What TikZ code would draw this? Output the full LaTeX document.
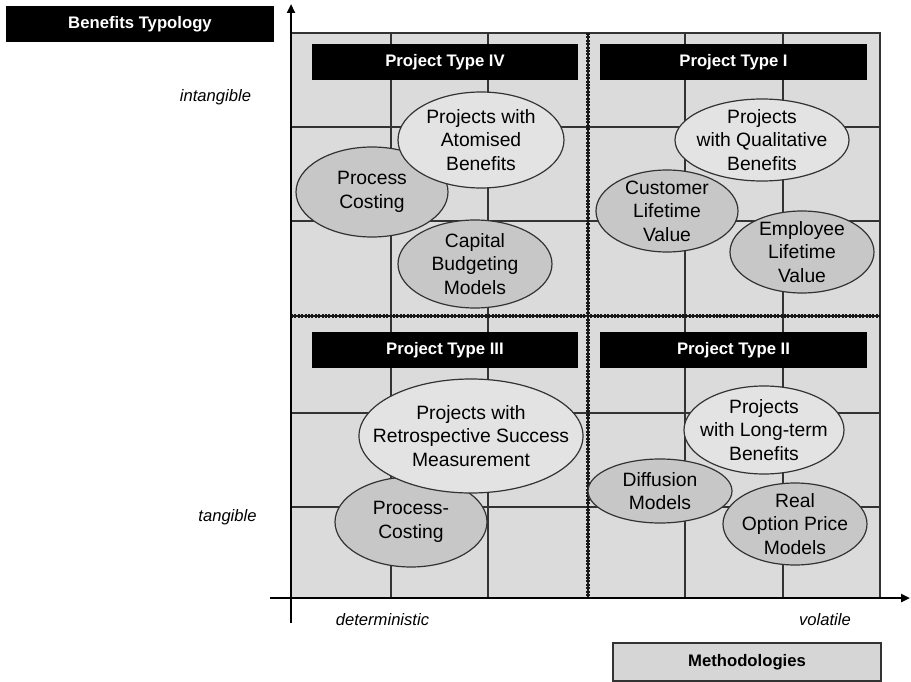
\documentclass[tikz,border=0pt]{standalone}
\usepackage{fontspec}
\setmainfont{Liberation Sans}
\usetikzlibrary{shapes.geometric,arrows.meta}
\definecolor{gridbg}{gray}{0.86}
\definecolor{methfill}{gray}{0.78}
\definecolor{projfill}{gray}{0.89}
\definecolor{lineink}{gray}{0.2}
\definecolor{legendfill}{gray}{0.84}
\begin{document}
\begin{tikzpicture}[x=1pt,y=-1pt,
  titlebox/.style={fill=black, text=white, font=\fontsize{16.7}{20}\selectfont\bfseries, inner sep=0pt, minimum height=36pt},
  legendbox/.style={fill=legendfill, draw=lineink, line width=1.1pt, font=\fontsize{16.7}{20}\selectfont\bfseries, inner sep=0pt, minimum height=38pt, minimum width=268pt},
  axislabel/.style={font=\fontsize{16.6}{20}\selectfont\itshape, inner sep=0pt},
  bubble/.style={ellipse, draw=lineink, line width=1.2pt, align=center, inner xsep=-60pt, inner ysep=-40pt, font=\fontsize{19.3}{23.5}\selectfont},
  methbubble/.style={bubble, fill=methfill},
  projbubble/.style={bubble, fill=projfill},
  gridline/.style={draw=lineink, line width=1.1pt},
  splitcore/.style={draw=black!90, line width=1.6pt},
  splitbeads/.style={draw=black!90, line width=3.2pt, dash pattern=on 2pt off 1.4pt},
  axisline/.style={draw=black, line width=2.4pt, -{Triangle[length=9pt,width=8pt]}}
]
\useasboundingbox (0,0) rectangle (911,682);

% plotting area
\fill[gridbg] (291,33) rectangle (880,598);
\foreach \gx in {391,488,685,783}
  \draw[gridline] (\gx,33) -- (\gx,598);
\foreach \gy in {127,221,413,507}
  \draw[gridline] (291,\gy) -- (880,\gy);
\draw[gridline] (291,33) -- (880,33) -- (880,598);

% quadrant separators: a solid core with a beaded overlay
\draw[splitcore] (588,33) -- (588,598);
\draw[splitcore] (291,316) -- (880,316);
\draw[splitbeads] (588,33) -- (588,598);
\draw[splitbeads] (291,316) -- (880,316);

% axes
\coordinate (ybottom) at (291,623);
\coordinate (ytop) at (291,4);
\coordinate (xleft) at (270,598);
\coordinate (xright) at (910,598);
\draw[axisline] (ybottom) -- (ytop);
\draw[axisline] (xleft) -- (xright);

% axis labels
\node[axislabel] (intangible) at (215.5,97) {intangible};
\node[axislabel] (tangible) at (227.5,517) {tangible};
\node[axislabel] (deterministic) at (382.5,620) {deterministic};
\node[axislabel] (volatile) at (825,620) {volatile};

% headings
\node[titlebox, minimum width=268pt] (typology) at (140,24) {Benefits Typology};
\node[titlebox, minimum width=266pt] (typeIV) at (445,62) {Project Type IV};
\node[titlebox, minimum width=267pt] (typeI) at (733.5,62) {Project Type I};
\node[titlebox, minimum width=266pt] (typeIII) at (445,350) {Project Type III};
\node[titlebox, minimum width=267pt] (typeII) at (733.5,350) {Project Type II};

% quadrant IV
\node[methbubble, minimum width=152pt, minimum height=90pt] (proccost) at (372,192) {Process\\Costing};
\node[methbubble, minimum width=154pt, minimum height=88pt] (capbudget) at (475,264) {Capital\\Budgeting\\Models};
\node[projbubble, minimum width=166pt, minimum height=96pt] (atomised) at (481,140) {Projects with\\Atomised\\Benefits};

% quadrant I
\node[projbubble, minimum width=174pt, minimum height=82pt] (qualitative) at (762,140) {Projects\\with Qualitative\\Benefits};
\node[methbubble, minimum width=142pt, minimum height=82pt] (customer) at (667,211) {Customer\\Lifetime\\Value};
\node[methbubble, minimum width=144pt, minimum height=82pt] (employee) at (802,252) {Employee\\Lifetime\\Value};

% quadrant III
\node[methbubble, minimum width=152pt, minimum height=90pt] (proccost2) at (411,522) {Process-\\Costing};
\node[projbubble, minimum width=224pt, minimum height=114pt] (retro) at (471,436) {Projects with\\Retrospective Success\\Measurement};

% quadrant II
\node[projbubble, minimum width=160pt, minimum height=88pt] (longterm) at (764,430) {Projects\\with Long-term\\Benefits};
\node[methbubble, minimum width=144pt, minimum height=64pt] (diffusion) at (660,491) {Diffusion\\Models};
\node[methbubble, minimum width=144pt, minimum height=82pt] (realoption) at (795,524) {Real\\Option Price\\Models};

% legend
\node[legendbox] (methodologies) at (747,662) {Methodologies};
\end{tikzpicture}
\end{document}
